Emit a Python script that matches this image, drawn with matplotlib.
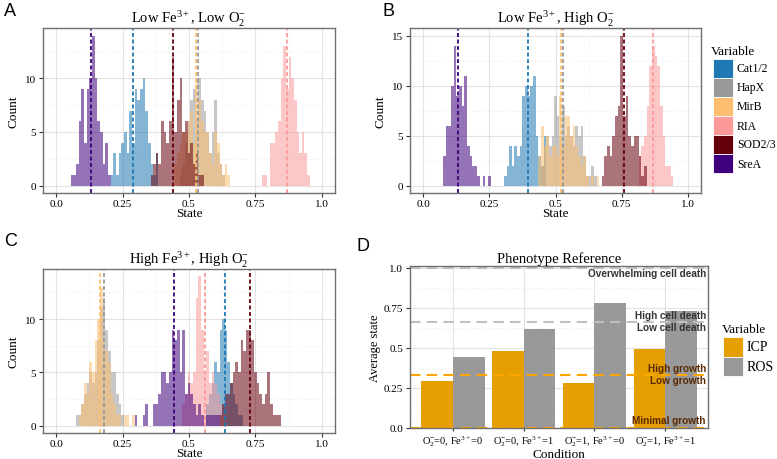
import matplotlib
matplotlib.use('Agg')
import matplotlib.pyplot as plt
from matplotlib.patches import Rectangle
from matplotlib.ticker import MultipleLocator
import numpy as np

plt.rcParams['font.family'] = ['Liberation Serif', 'DejaVu Serif']
plt.rcParams['mathtext.fontset'] = 'custom'
plt.rcParams['mathtext.rm'] = 'Liberation Serif'
plt.rcParams['mathtext.it'] = 'Liberation Serif:italic'

W, H = 777, 460

variables = ['Cat1/2', 'HapX', 'MirB', 'RIA', 'SOD2/3', 'SreA']
colors = ['#1f78b4', '#999999', '#fdbf6f', '#fb9a99', '#67000d', '#3f007d']

# histogram counts per 0.01 bin, first bin centre in *_start
a_start = [0.21, 0.47, 0.45, 0.78, 0.36, 0.06]
a_counts = [
    [1, 3, 1, 3, 4, 5, 3, 7, 4, 9, 8, 9, 10, 7, 4, 2, 1, 3],
    [1, 2, 4, 6, 8, 9, 6, 10, 8, 7, 5, 3, 5, 8, 3, 2, 1],
    [2, 3, 4, 5, 5, 6, 7, 4, 10, 8, 6, 5, 5, 3, 2, 5, 4, 2, 1, 2, 1],
    [1, 1, 0, 4, 4, 5, 6, 10, 13, 9, 12, 10, 8, 5, 3, 5, 3, 1],
    [1, 2, 3, 2, 6, 5, 4, 6, 12, 5, 8, 10, 5, 6, 3, 4, 2, 3, 1, 1],
    [1, 1, 2, 6, 9, 4, 9, 10, 14, 10, 6, 5, 2, 4, 1],
]
a_means = [0.29, 0.535, 0.525, 0.87, 0.44, 0.13]

b_start = [0.31, 0.45, 0.44, 0.82, 0.68, 0.08]
b_counts = [
    [1, 2, 4, 2, 4, 3, 4, 9, 10, 9, 10, 11, 5, 3, 2, 5],
    [2, 4, 5, 4, 5, 9, 7, 5, 8, 5, 6, 5, 4, 6, 5, 6, 3, 1, 1, 2, 1],
    [3, 6, 4, 5, 3, 4, 4, 3, 9, 4, 7, 7, 5, 6, 4, 3, 2, 3, 1, 0, 1, 0, 1],
    [3, 4, 5, 8, 12, 14, 13, 12, 8, 5, 2, 2, 1],
    [1, 3, 4, 3, 5, 7, 8, 15, 7, 9, 5, 4, 5, 5, 3, 1, 2],
    [3, 6, 6, 10, 14, 9, 10, 8, 11, 4, 3, 2, 2, 1, 0, 1, 0, 1],
]
b_means = [0.395, 0.53, 0.52, 0.87, 0.76, 0.13]

c_start = [0.57, 0.08, 0.09, 0.48, 0.62, 0.30]
c_counts = [
    [2, 3, 4, 6, 5, 9, 10, 9, 6, 4, 3, 2, 1, 1],
    [1, 1, 2, 3, 4, 5, 4, 5, 8, 11, 12, 9, 7, 5, 5, 3, 2, 1],
    [1, 2, 4, 3, 6, 5, 8, 10, 13, 8, 7, 6, 3, 2, 1, 1, 0, 1, 1, 0, 1],
    [2, 3, 5, 4, 5, 12, 14, 9, 5, 7, 4, 5, 4, 3, 2, 1],
    [1, 2, 3, 3, 4, 5, 6, 5, 8, 7, 9, 9, 8, 5, 4, 3, 2, 3, 5, 2, 1, 1, 1],
    [1, 0, 0, 1, 2, 0, 0, 2, 2, 3, 5, 5, 4, 5, 9, 8, 9, 5, 9, 3, 4, 3, 2, 1, 2, 1, 0, 1, 1, 1, 1, 1],
]
c_means = [0.635, 0.178, 0.165, 0.56, 0.73, 0.445]

# panel D
conditions = ['O$_2^{-}$=0, Fe$^{\\mathrm{3+}}$=0', 'O$_2^{-}$=0, Fe$^{\\mathrm{3+}}$=1',
              'O$_2^{-}$=1, Fe$^{\\mathrm{3+}}$=0', 'O$_2^{-}$=1, Fe$^{\\mathrm{3+}}$=1']
icp = [0.29, 0.48, 0.28, 0.49]
ros = [0.44, 0.62, 0.78, 0.73]
death_levels = [1.0, 0.66]
growth_levels = [0.33, 0.0]
death_labels = [('Overwhelming cell death', 0.965), ('High cell death', 0.703), ('Low cell death', 0.627)]
growth_labels = [('High growth', 0.376), ('Low growth', 0.30), ('Minimal growth', 0.049)]


def add_ax(x0, y0, x1, y1):
    return fig.add_axes([x0 / W, 1 - y1 / H, (x1 - x0) / W, (y1 - y0) / H])


def style_ax(ax):
    for s in ax.spines.values():
        s.set_color('#707070')
        s.set_linewidth(1.0)
    ax.tick_params(which='major', length=3, color='#333333', labelsize=8, pad=2)
    ax.tick_params(which='minor', length=0)
    ax.grid(True, which='major', color='#e3e3e3', lw=0.8)
    ax.grid(True, which='minor', color='#ececec', lw=0.6, ls=':')
    ax.set_axisbelow(True)


def hist_panel(ax, starts, counts, means, ymax, title):
    for st, cn, col in zip(starts, counts, colors):
        xs = st + 0.01 * np.arange(len(cn))
        ax.bar(xs, cn, width=0.01, color=col, alpha=0.55, lw=0)
    for m, col in zip(means, colors):
        ax.axvline(m, color=col, lw=1.3, ls=(0, (2.2, 1.4)))
    ax.set_xlim(-0.05, 1.05)
    ax.set_ylim(-0.05 * ymax, ymax * 1.05)
    ax.set_xticks([0, 0.25, 0.5, 0.75, 1.0])
    ax.set_xticklabels(['0.0', '0.25', '0.5', '0.75', '1.0'])
    ax.xaxis.set_minor_locator(MultipleLocator(0.125))
    ax.yaxis.set_major_locator(MultipleLocator(5))
    ax.yaxis.set_minor_locator(MultipleLocator(2.5))
    style_ax(ax)
    ax.tick_params(axis='x', pad=1.5)
    ax.set_xlabel('State', fontsize=9.5, labelpad=-1)
    ax.set_ylabel('Count', fontsize=9.5, labelpad=4)
    ax.set_title(title, fontsize=10.5, pad=3)


fig = plt.figure(figsize=(W / 100, H / 100), dpi=100)

ax_a = add_ax(43, 29, 335, 194)
hist_panel(ax_a, a_start, a_counts, a_means, 14, 'Low Fe$^{\\mathrm{3+}}$, Low O$_2^{-}$')
ax_b = add_ax(410, 29, 701, 194)
hist_panel(ax_b, b_start, b_counts, b_means, 15, 'Low Fe$^{\\mathrm{3+}}$, High O$_2^{-}$')
ax_c = add_ax(43, 270, 335, 434)
hist_panel(ax_c, c_start, c_counts, c_means, 14, 'High Fe$^{\\mathrm{3+}}$, High O$_2^{-}$')

# panel D
ax_d = add_ax(410, 267, 708, 429)
x = np.arange(1, len(conditions) + 1)
ax_d.bar(x - 0.225, icp, width=0.45, color='#E69F00', lw=0)
ax_d.bar(x + 0.225, ros, width=0.45, color='#999999', lw=0)
for lv in death_levels:
    ax_d.axhline(lv, color='#c0c0c0', lw=1.5, ls=(0, (5, 3)))
for lv in growth_levels:
    ax_d.axhline(lv, color='#ffa500', lw=1.5, ls=(0, (5, 3)))
for txt, yv in death_labels:
    ax_d.text(4.57, yv, txt, ha='right', va='center', fontsize=7.2, fontweight='bold',
              family='Liberation Sans', color='#333333')
for txt, yv in growth_labels:
    ax_d.text(4.57, yv, txt, ha='right', va='center', fontsize=7.2, fontweight='bold',
              family='Liberation Sans', color='#5a2a05')
ax_d.set_xlim(0.4, 4.6)
ax_d.set_ylim(0, 1.01)
ax_d.set_xticks(x)
ax_d.set_xticklabels(conditions)
ax_d.set_yticks([0, 0.25, 0.5, 0.75, 1.0])
ax_d.set_yticklabels(['0.0', '0.25', '0.5', '0.75', '1.0'])
ax_d.yaxis.set_minor_locator(MultipleLocator(0.125))
style_ax(ax_d)
ax_d.tick_params(axis='x', labelsize=7.5, pad=1, length=2.5)
ax_d.set_xlabel('Condition', fontsize=9.5)
ax_d.xaxis.set_label_coords(0.5, -20 / 162)
ax_d.xaxis.label.set_va('top')
ax_d.set_ylabel('Average state', fontsize=9, labelpad=2)
ax_d.set_title('Phenotype Reference', fontsize=10.5, pad=3)

# legend for histograms
lg = add_ax(700, 40, 777, 185)
lg.set_xlim(700, 777)
lg.set_ylim(185, 40)
lg.axis('off')
lg.text(711, 52, 'Variable', fontsize=9.5, va='center', ha='left')
for i, (v, col) in enumerate(zip(variables, colors)):
    lg.add_patch(Rectangle((713, 60 + 19 * i), 20, 19, facecolor=col, edgecolor='white', lw=0.6))
    lg.text(737, 69.5 + 19 * i, v, fontsize=8.5, va='center', ha='left')

# legend for panel D
lg2 = add_ax(715, 315, 777, 385)
lg2.set_xlim(715, 777)
lg2.set_ylim(385, 315)
lg2.axis('off')
lg2.text(722, 330, 'Variable', fontsize=9.5, va='center', ha='left')
for i, (v, col) in enumerate(zip(['ICP', 'ROS'], ['#E69F00', '#999999'])):
    lg2.add_patch(Rectangle((723, 338 + 19.5 * i), 20, 19.5, facecolor=col, edgecolor='white', lw=0.6))
    lg2.text(747, 348 + 19.5 * i, v, fontsize=10, va='center', ha='left')

for lab, px, py in [('A', 4, 12), ('B', 383, 12), ('C', 4, 242), ('D', 357, 247)]:
    fig.text(px / W, 1 - py / H, lab, fontsize=13, family='Liberation Sans', va='center', ha='left')

fig.savefig('out.png', dpi=100)
